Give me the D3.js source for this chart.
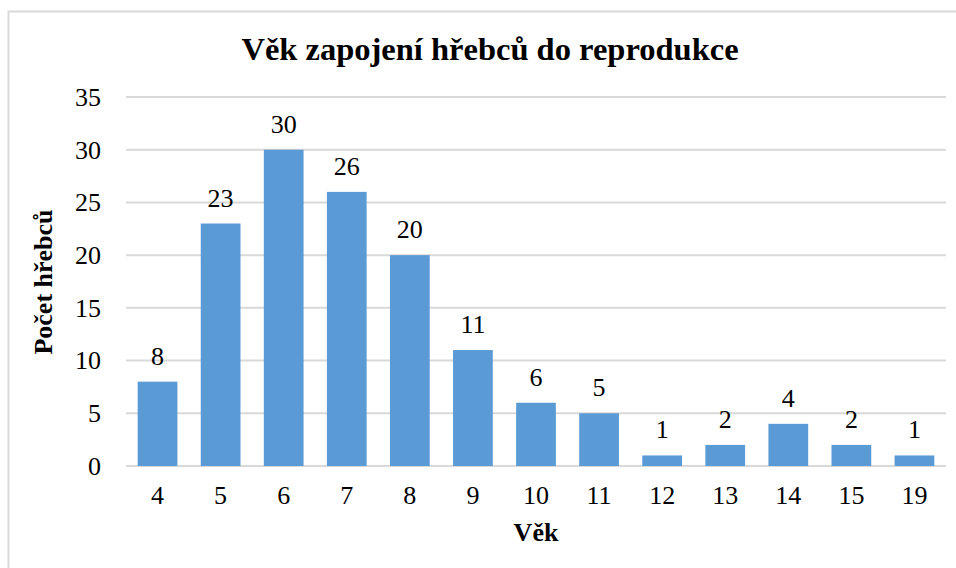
<!DOCTYPE html>
<html>
<head>
<meta charset="utf-8">
<script src="https://cdn.jsdelivr.net/npm/d3@7"></script>
<style>
  html, body { margin: 0; padding: 0; background: #fff; }
  svg { display: block; }
</style>
</head>
<body>
<svg id="chart" width="956" height="568"></svg>
<script>
const categories = ["4", "5", "6", "7", "8", "9", "10", "11", "12", "13", "14", "15", "19"];
const values = [8, 23, 30, 26, 20, 11, 6, 5, 1, 2, 4, 2, 1];
const yTicks = [0, 5, 10, 15, 20, 25, 30, 35];
const title = "Věk zapojení hřebců do reprodukce";
const xTitle = "Věk";
const yTitle = "Počet hřebců";

const FONT = "'Liberation Serif', 'Times New Roman', serif";
const svg = d3.select("#chart");
const W = 956, H = 568;
const m = { left: 126, right: 10, top: 97, bottom: 102 };

// chart border
svg.append("rect")
  .attr("x", 8.5).attr("y", 11.5)
  .attr("width", W + 10).attr("height", H + 10)
  .attr("fill", "none").attr("stroke", "#d9d9d9").attr("stroke-width", 2);

const x = d3.scaleBand().domain(categories).range([m.left, W - m.right]).paddingInner(0.37).paddingOuter(0.185);
const y = d3.scaleLinear().domain([0, 35]).range([H - m.bottom, m.top]);

// gridlines
svg.append("g").selectAll("line").data(yTicks).join("line")
  .attr("x1", m.left).attr("x2", W - m.right)
  .attr("y1", d => y(d)).attr("y2", d => y(d))
  .attr("stroke", "#d9d9d9").attr("stroke-width", 2);

// y axis labels
const yAxis = d3.axisLeft(y).tickValues(yTicks).tickSize(0).tickPadding(25);
const gy = svg.append("g").attr("transform", `translate(${m.left},0)`).call(yAxis);
gy.select(".domain").remove();
gy.selectAll("text").style("font-family", FONT).style("font-size", "26px").attr("fill", "#000");

// bars
svg.append("g").selectAll("rect").data(values).join("rect")
  .attr("x", (d, i) => x(categories[i]))
  .attr("width", x.bandwidth())
  .attr("y", d => y(d))
  .attr("height", d => y(0) - y(d))
  .attr("fill", "#5b9bd5");

// value labels
svg.append("g").selectAll("text").data(values).join("text")
  .attr("x", (d, i) => x(categories[i]) + x.bandwidth() / 2)
  .attr("y", d => y(d) - 17)
  .attr("text-anchor", "middle")
  .style("font-family", FONT).style("font-size", "26px").attr("fill", "#000")
  .text(d => d);

// x axis labels
const xAxis = d3.axisBottom(x).tickSize(0).tickPadding(20);
const gx = svg.append("g").attr("transform", `translate(0,${y(0)})`).call(xAxis);
gx.select(".domain").remove();
gx.selectAll("text").style("font-family", FONT).style("font-size", "26px").attr("fill", "#000");

// title
svg.append("text")
  .attr("x", 490).attr("y", 60)
  .attr("text-anchor", "middle")
  .style("font-family", FONT).style("font-size", "32.5px").style("font-weight", "bold").attr("fill", "#000")
  .text(title);

// x axis title
svg.append("text")
  .attr("x", 536).attr("y", 541)
  .attr("text-anchor", "middle")
  .style("font-family", FONT).style("font-size", "26px").style("font-weight", "bold").attr("fill", "#000")
  .text(xTitle);

// y axis title
svg.append("text")
  .attr("transform", "translate(52,282) rotate(-90)")
  .attr("text-anchor", "middle")
  .style("font-family", FONT).style("font-size", "26px").style("font-weight", "bold").attr("fill", "#000")
  .text(yTitle);
</script>
</body>
</html>
